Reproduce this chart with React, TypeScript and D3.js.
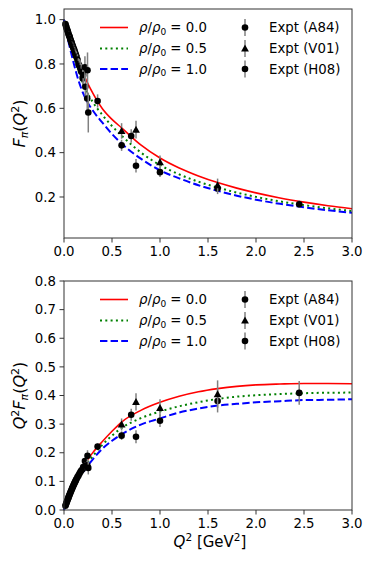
import React from 'react';
import * as d3 from 'd3';

// theory curves, F_pi(Q^2)
const q2Grid = [0, 0.05, 0.1, 0.15, 0.2, 0.25, 0.3, 0.4, 0.5, 0.6, 0.8, 1.0, 1.2, 1.4, 1.6, 1.8, 2.0, 2.25, 2.5, 2.75, 3.0];
const fRho00 = [1.0, 0.935, 0.87, 0.81, 0.757, 0.71, 0.668, 0.598, 0.55, 0.512, 0.435, 0.376, 0.331, 0.295, 0.265, 0.24, 0.2185, 0.1956, 0.1768, 0.1607, 0.147];
const fRho05 = [1.0, 0.915, 0.837, 0.77, 0.712, 0.666, 0.628, 0.57, 0.52, 0.477, 0.401, 0.344, 0.302, 0.269, 0.2425, 0.22, 0.2005, 0.18, 0.1632, 0.149, 0.1367];
const fRho10 = [1.0, 0.895, 0.805, 0.727, 0.667, 0.623, 0.59, 0.535, 0.484, 0.441, 0.373, 0.32, 0.284, 0.253, 0.228, 0.206, 0.188, 0.169, 0.1536, 0.14, 0.129];

// experiments: [Q^2, F, error]
const a84 = [
  [0.015, 0.98, 0.012], [0.02, 0.972, 0.012], [0.025, 0.965, 0.012], [0.03, 0.958, 0.012],
  [0.035, 0.952, 0.012], [0.04, 0.946, 0.012], [0.045, 0.938, 0.013], [0.05, 0.932, 0.013],
  [0.055, 0.926, 0.013], [0.06, 0.921, 0.013], [0.065, 0.913, 0.014], [0.07, 0.907, 0.014],
  [0.075, 0.9, 0.014], [0.08, 0.895, 0.015], [0.085, 0.888, 0.015], [0.09, 0.882, 0.016],
  [0.095, 0.876, 0.016], [0.1, 0.87, 0.017], [0.105, 0.865, 0.017], [0.11, 0.858, 0.018],
  [0.115, 0.851, 0.019], [0.12, 0.845, 0.02], [0.125, 0.838, 0.021], [0.13, 0.832, 0.022],
  [0.14, 0.82, 0.024], [0.15, 0.8, 0.026], [0.16, 0.792, 0.03], [0.17, 0.78, 0.033],
  [0.18, 0.765, 0.036], [0.195, 0.735, 0.04], [0.2, 0.75, 0.045], [0.218, 0.785, 0.05],
  [0.222, 0.697, 0.055], [0.242, 0.644, 0.065], [0.245, 0.772, 0.08], [0.253, 0.581, 0.09],
];
const v01 = [[0.6, 0.498, 0.035], [0.75, 0.504, 0.04], [1.0, 0.357, 0.03], [1.6, 0.253, 0.03]];
const h08 = [[0.35, 0.633, 0.03], [0.6, 0.433, 0.025], [0.7, 0.475, 0.03], [0.75, 0.341, 0.03], [1.0, 0.312, 0.022], [1.6, 0.238, 0.025], [2.45, 0.167, 0.017]];

const xTicks = [0, 0.5, 1.0, 1.5, 2.0, 2.5, 3.0];
const topTicks = [0.2, 0.4, 0.6, 0.8, 1.0];
const bottomTicks = [0, 0.1, 0.2, 0.3, 0.4, 0.5, 0.6, 0.7, 0.8];
const densities = ['0.0', '0.5', '1.0'];

const FONT = 'DejaVu Sans, sans-serif';
const x = d3.scaleLinear().domain([0, 3]).range([64, 352]);

const curves = [
  { f: fRho00, color: '#ff0000', dash: null },
  { f: fRho05, color: '#008000', dash: '2,3.3' },
  { f: fRho10, color: '#0000ff', dash: '7.4,3.2' },
];

function Marker({ cx, cy, tri }: { cx: number; cy: number; tri?: boolean }) {
  if (tri) {
    const s = 3.9;
    return <path d={`M${cx},${cy - s}L${cx + s},${cy + s * 0.8}L${cx - s},${cy + s * 0.8}Z`} fill="black" />;
  }
  return <circle cx={cx} cy={cy} r={3.3} fill="black" />;
}

function Panel({ top, bottom, yDomain, yTicks, scaled, yLabel }: any) {
  const y = d3.scaleLinear().domain(yDomain).range([bottom, top]);
  const val = (q2: number, f: number) => (scaled ? q2 * f : f);
  const line = (arr: number[]) =>
    d3.line<number>()
      .x((_, i) => x(q2Grid[i]))
      .y((f, i) => y(val(q2Grid[i], f)))
      .curve(d3.curveMonotoneX)(arr) || '';
  const points = (data: number[][], tri: boolean) =>
    data.map(([q, f, e], i) => (
      <g key={i}>
        <line x1={x(q)} x2={x(q)} y1={y(val(q, f - e))} y2={y(val(q, f + e))} stroke="#808080" strokeWidth={1.5} />
        <Marker cx={x(q)} cy={y(val(q, f))} tri={tri} />
      </g>
    ));
  const legY = [top + 18.5, top + 39.5, top + 60];
  const expts = ['Expt (A84)', 'Expt (V01)', 'Expt (H08)'];
  return (
    <g fontFamily={FONT}>
      {curves.map((c, i) => (
        <path key={i} d={line(c.f)} fill="none" stroke={c.color} strokeWidth={i === 0 ? 1.6 : 2} strokeDasharray={c.dash || undefined} />
      ))}
      {points(a84, false)}
      {points(h08, false)}
      {points(v01, true)}
      <rect x={64} y={top} width={288} height={bottom - top} fill="none" stroke="#333" strokeWidth={1} />
      {xTicks.map(t => (
        <g key={t}>
          <line x1={x(t)} x2={x(t)} y1={bottom} y2={bottom + 4.5} stroke="#333" />
          <text x={x(t)} y={bottom + 18} textAnchor="middle" fontSize={13.3}>{d3.format('.1f')(t)}</text>
        </g>
      ))}
      {yTicks.map((t: number) => (
        <g key={t}>
          <line x1={59.5} x2={64} y1={y(t)} y2={y(t)} stroke="#333" />
          <text x={56} y={y(t) + 4.7} textAnchor="end" fontSize={13.3}>{d3.format('.1f')(t)}</text>
        </g>
      ))}
      {curves.map((c, i) => (
        <g key={'l' + i}>
          <line x1={100} x2={128} y1={legY[i]} y2={legY[i]} stroke={c.color} strokeWidth={i === 0 ? 1.6 : 2} strokeDasharray={c.dash || undefined} />
          <text x={139} y={legY[i] + 4.7} fontSize={13.3}>
            <tspan fontStyle="italic">ρ</tspan>/<tspan fontStyle="italic">ρ</tspan>
            <tspan fontSize={9} dy={2.5}>0</tspan>
            <tspan dy={-2.5}> = {densities[i]}</tspan>
          </text>
          <line x1={245} x2={245} y1={legY[i] - 8.5} y2={legY[i] + 8.5} stroke="#808080" strokeWidth={1.5} />
          <Marker cx={245} cy={legY[i]} tri={i === 1} />
          <text x={269} y={legY[i] + 4.7} fontSize={13.3}>{expts[i]}</text>
        </g>
      ))}
      <text transform={`translate(25,${(top + bottom) / 2}) rotate(-90)`} textAnchor="middle" fontSize={16}>
        {yLabel}
      </text>
    </g>
  );
}

export default function App() {
  return (
    <svg width={373} height={565} style={{ position: 'absolute', left: 0, top: 0, background: 'white' }}>
      <Panel
        top={9}
        bottom={238}
        yDomain={[0.015, 1.048]}
        yTicks={topTicks}
        scaled={false}
        yLabel={
          <>
            <tspan fontStyle="italic">F</tspan>
            <tspan fontStyle="italic" fontSize={11} dy={3}>π</tspan>
            <tspan dy={-3}>(</tspan>
            <tspan fontStyle="italic">Q</tspan>
            <tspan fontSize={11} dy={-6.5}>2</tspan>
            <tspan dy={6.5}>)</tspan>
          </>
        }
      />
      <Panel
        top={281}
        bottom={510}
        yDomain={[0, 0.8]}
        yTicks={bottomTicks}
        scaled={true}
        yLabel={
          <>
            <tspan fontStyle="italic">Q</tspan>
            <tspan fontSize={11} dy={-6.5}>2</tspan>
            <tspan fontStyle="italic" dy={6.5}>F</tspan>
            <tspan fontStyle="italic" fontSize={11} dy={3}>π</tspan>
            <tspan dy={-3}>(</tspan>
            <tspan fontStyle="italic">Q</tspan>
            <tspan fontSize={11} dy={-6.5}>2</tspan>
            <tspan dy={6.5}>)</tspan>
          </>
        }
      />
      <text x={210} y={547} textAnchor="middle" fontSize={15} fontFamily={FONT}>
        <tspan fontStyle="italic">Q</tspan>
        <tspan fontSize={10.5} dy={-6.5}>2</tspan>
        <tspan dy={6.5}> [GeV</tspan>
        <tspan fontSize={10.5} dy={-6.5}>2</tspan>
        <tspan dy={6.5}>]</tspan>
      </text>
    </svg>
  );
}
